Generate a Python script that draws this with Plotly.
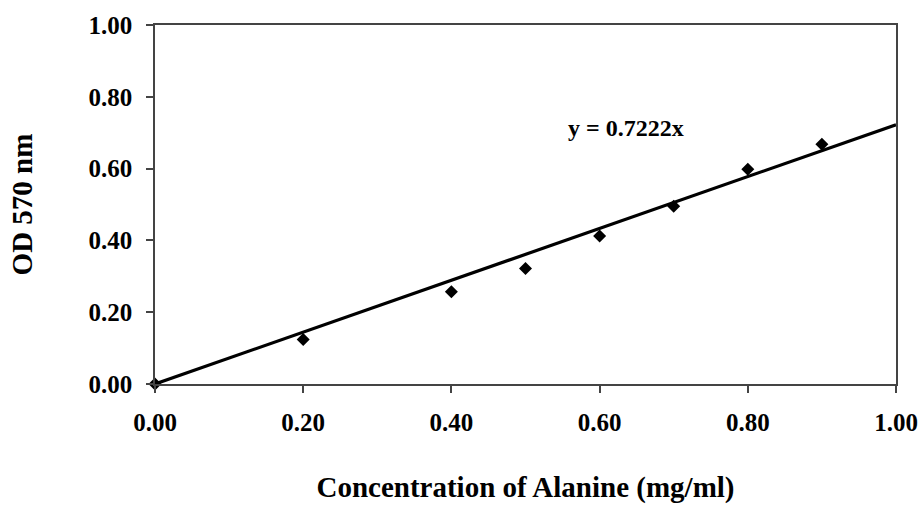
import plotly.graph_objects as go

# Alanine standard curve: concentration (mg/ml) vs absorbance at 570 nm
concentration = [0.0, 0.2, 0.4, 0.5, 0.6, 0.7, 0.8, 0.9]
od570 = [0.0, 0.124, 0.257, 0.322, 0.412, 0.495, 0.598, 0.668]

slope = 0.7222
fit_x = [0.0, 1.0]
fit_y = [slope * v for v in fit_x]

tick_vals = [0.0, 0.2, 0.4, 0.6, 0.8, 1.0]
tick_text = ["<b>0.00</b>", "<b>0.20</b>", "<b>0.40</b>", "<b>0.60</b>", "<b>0.80</b>", "<b>1.00</b>"]

font_family = "Liberation Serif, Times New Roman, serif"

fig = go.Figure()
fig.add_trace(go.Scatter(
    x=fit_x, y=fit_y, mode="lines",
    line=dict(color="black", width=3.2),
    hoverinfo="skip", showlegend=False, cliponaxis=False,
))
fig.add_trace(go.Scatter(
    x=concentration, y=od570, mode="markers",
    marker=dict(symbol="diamond", size=10, color="black"),
    showlegend=False, cliponaxis=False,
))

fig.add_annotation(
    x=0.636, y=0.712, xref="x", yref="y",
    text="<b>y = 0.7222x</b>", showarrow=False,
    font=dict(family=font_family, size=24, color="black"),
)

axis_common = dict(
    range=[0, 1], tickvals=tick_vals, ticktext=tick_text,
    showgrid=False, zeroline=False, automargin=False,
    showline=True, linecolor="#444", linewidth=1.5, mirror=True,
    ticks="outside", ticklen=7, tickcolor="#444", tickwidth=1.5,
    tickfont=dict(family=font_family, size=25, color="black"),
)

fig.update_layout(
    width=923, height=510,
    margin=dict(l=155, r=27, t=25, b=126),
    paper_bgcolor="white", plot_bgcolor="white",
    xaxis=dict(**axis_common,
               title=dict(text="<b>Concentration of Alanine (mg/ml)</b>",
                          font=dict(family=font_family, size=29, color="black"),
                          standoff=42)),
    yaxis=dict(**axis_common,
               title=dict(text="<b>OD 570 nm</b>",
                          font=dict(family=font_family, size=29, color="black"),
                          standoff=47)),
)
fig.update_xaxes(ticklabelstandoff=8)
fig.update_yaxes(ticklabelstandoff=9)

fig.write_html("out.html")
